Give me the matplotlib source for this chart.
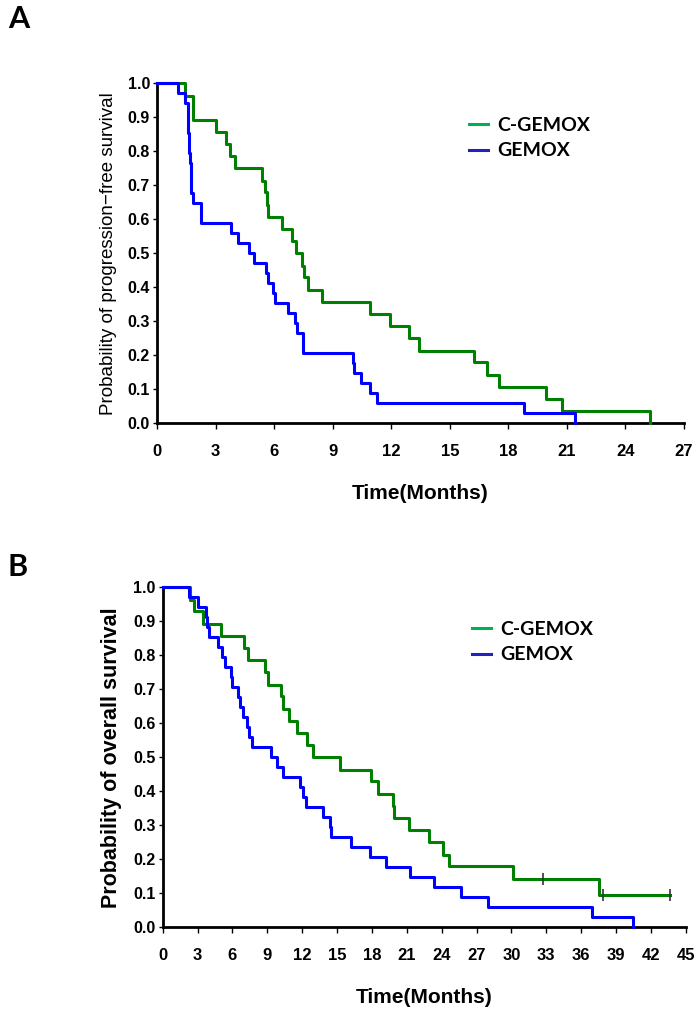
import matplotlib
matplotlib.use("Agg")
import matplotlib.pyplot as plt
from matplotlib.lines import Line2D

# Panel A - progression-free survival (months, survival prob)
pfs_cgemox_t = [0, 1.46, 1.87, 3.03, 3.51, 3.72, 4.01, 5.38, 5.55, 5.66, 5.69, 6.38, 6.94, 7.10,
                7.42, 7.54, 7.73, 8.43, 10.92, 11.95, 12.93, 13.40, 16.24, 16.93, 17.53, 19.93, 20.75, 25.24]
pfs_cgemox_s = [1.0, 0.964, 0.893, 0.857, 0.821, 0.786, 0.75, 0.714, 0.679, 0.643, 0.607, 0.571, 0.536, 0.5,
                0.464, 0.429, 0.393, 0.357, 0.321, 0.286, 0.25, 0.214, 0.179, 0.143, 0.107, 0.071, 0.036, 0.0]
pfs_gemox_t = [0, 1.10, 1.44, 1.61, 1.66, 1.71, 1.76, 1.87, 2.26, 3.77, 4.15, 4.71, 4.97, 5.61,
               5.69, 5.95, 6.03, 6.72, 7.08, 7.15, 7.46, 10.03, 10.11, 10.44, 10.92, 11.28, 18.78, 21.42]
pfs_gemox_s = [1.0, 0.971, 0.941, 0.853, 0.794, 0.765, 0.676, 0.647, 0.588, 0.559, 0.529, 0.5, 0.471, 0.441,
               0.412, 0.382, 0.353, 0.324, 0.294, 0.265, 0.206, 0.176, 0.147, 0.118, 0.088, 0.059, 0.029, 0.0]

# Panel B - overall survival
os_cgemox_t = [0, 2.35, 2.72, 3.5, 4.99, 7.0, 7.37, 8.8, 9.09, 10.15, 10.32, 10.9, 11.53, 12.45,
               12.96, 15.26, 17.9, 18.55, 19.85, 19.93, 21.19, 22.94, 24.1, 24.67, 30.17, 37.57, 43.66]
os_cgemox_s = [1.0, 0.964, 0.929, 0.893, 0.857, 0.821, 0.786, 0.75, 0.714, 0.679, 0.643, 0.607, 0.571, 0.536,
               0.5, 0.464, 0.429, 0.393, 0.357, 0.321, 0.286, 0.25, 0.214, 0.179, 0.143, 0.095, 0.095]
os_cgemox_cens_t = [32.7, 37.92, 43.66]
os_cgemox_cens_s = [0.143, 0.095, 0.095]
os_gemox_t = [0, 2.29, 3.01, 3.73, 3.85, 4.0, 4.79, 5.08, 5.36, 5.85, 5.99, 6.51, 6.65, 6.88, 7.23, 7.46,
              7.71, 9.29, 9.81, 10.38, 11.82, 12.1, 12.3, 13.82, 14.4, 14.5, 16.17, 17.84, 19.19, 21.28,
              23.35, 25.67, 27.97, 36.92, 40.45]
os_gemox_s = [1.0, 0.971, 0.941, 0.912, 0.882, 0.853, 0.824, 0.794, 0.765, 0.735, 0.706, 0.676, 0.647, 0.618,
              0.588, 0.559, 0.529, 0.5, 0.471, 0.441, 0.412, 0.382, 0.353, 0.324, 0.294, 0.265, 0.235, 0.206,
              0.176, 0.147, 0.118, 0.088, 0.059, 0.029, 0.0]

labels = ["C-GEMOX", "GEMOX"]
y_ticks = [0.0, 0.1, 0.2, 0.3, 0.4, 0.5, 0.6, 0.7, 0.8, 0.9, 1.0]
x_ticks_a = list(range(0, 28, 3))
x_ticks_b = list(range(0, 46, 3))

narrow = ["Liberation Sans Narrow", "Liberation Sans", "DejaVu Sans"]
calibri = ["Lato", "DejaVu Sans"]
green = "#008000"
blue = "#0000ff"

fig = plt.figure(figsize=(7, 10.11), dpi=100)


def panel(rect, t1, s1, t2, s2, xticks, xmax, ylabel, ylab_size, ylab_weight, legend_xy):
    ax = fig.add_axes(rect)
    ax.step(t1, s1, where="post", color=green, lw=2.2, clip_on=False, zorder=3)
    ax.step(t2, s2, where="post", color=blue, lw=2.2, clip_on=False, zorder=3)
    ax.set_xlim(0, xmax)
    ax.set_ylim(0, 1)
    for side in ["top", "right"]:
        ax.spines[side].set_visible(False)
    for side in ["left", "bottom"]:
        ax.spines[side].set_linewidth(2)
    ax.set_xticks(xticks)
    ax.set_yticks(y_ticks)
    ax.set_yticklabels(["%.1f" % v for v in y_ticks], family=narrow, fontsize=11.5, weight="bold")
    ax.set_xticklabels([str(v) for v in xticks], family=narrow, fontsize=12, weight="bold")
    ax.tick_params(axis="x", length=4, width=1, pad=11)
    ax.tick_params(axis="y", length=3, width=1, pad=2)
    ax.set_xlabel("Time(Months)", family=narrow, fontsize=15, weight="bold", labelpad=18)
    ax.set_ylabel(ylabel, family=narrow, fontsize=ylab_size, weight=ylab_weight, labelpad=8)
    handles = [Line2D([], [], color="#00b050", lw=2.2), Line2D([], [], color="#2222bb", lw=2.2)]
    ax.legend(handles, labels, loc="upper left", bbox_to_anchor=legend_xy, bbox_transform=fig.transFigure,
              frameon=False, handlelength=1.0, handletextpad=0.45, labelspacing=0.45, borderpad=0,
              prop={"family": calibri, "size": 14, "weight": "bold"})
    return ax


ax_a = panel([157 / 700, 1 - 423.3 / 1011, 527 / 700, 340 / 1011],
             pfs_cgemox_t, pfs_cgemox_s, pfs_gemox_t, pfs_gemox_s, x_ticks_a, 27,
             "Probability of progression\u2212free survival", 13.5, "normal", (459 / 700, 1 - 107 / 1011))

ax_b = panel([162.7 / 700, 1 - 927.3 / 1011, 523 / 700, 340 / 1011],
             os_cgemox_t, os_cgemox_s, os_gemox_t, os_gemox_s, x_ticks_b, 45,
             "Probability of overall survival", 15.5, "bold", (462 / 700, 1 - 611 / 1011))
ax_b.plot(os_cgemox_cens_t, os_cgemox_cens_s, linestyle="none", marker="|", markersize=9,
          markeredgewidth=1.2, color="#333333", zorder=4, clip_on=False)

fig.text(8 / 700, 1 - 5 / 1011, "A", family=calibri, fontsize=22, weight="bold", va="top", ha="left")
fig.text(8 / 700, 1 - 553 / 1011, "B", family=calibri, fontsize=22, weight="bold", va="top", ha="left")

fig.savefig("out.png", dpi=100)
